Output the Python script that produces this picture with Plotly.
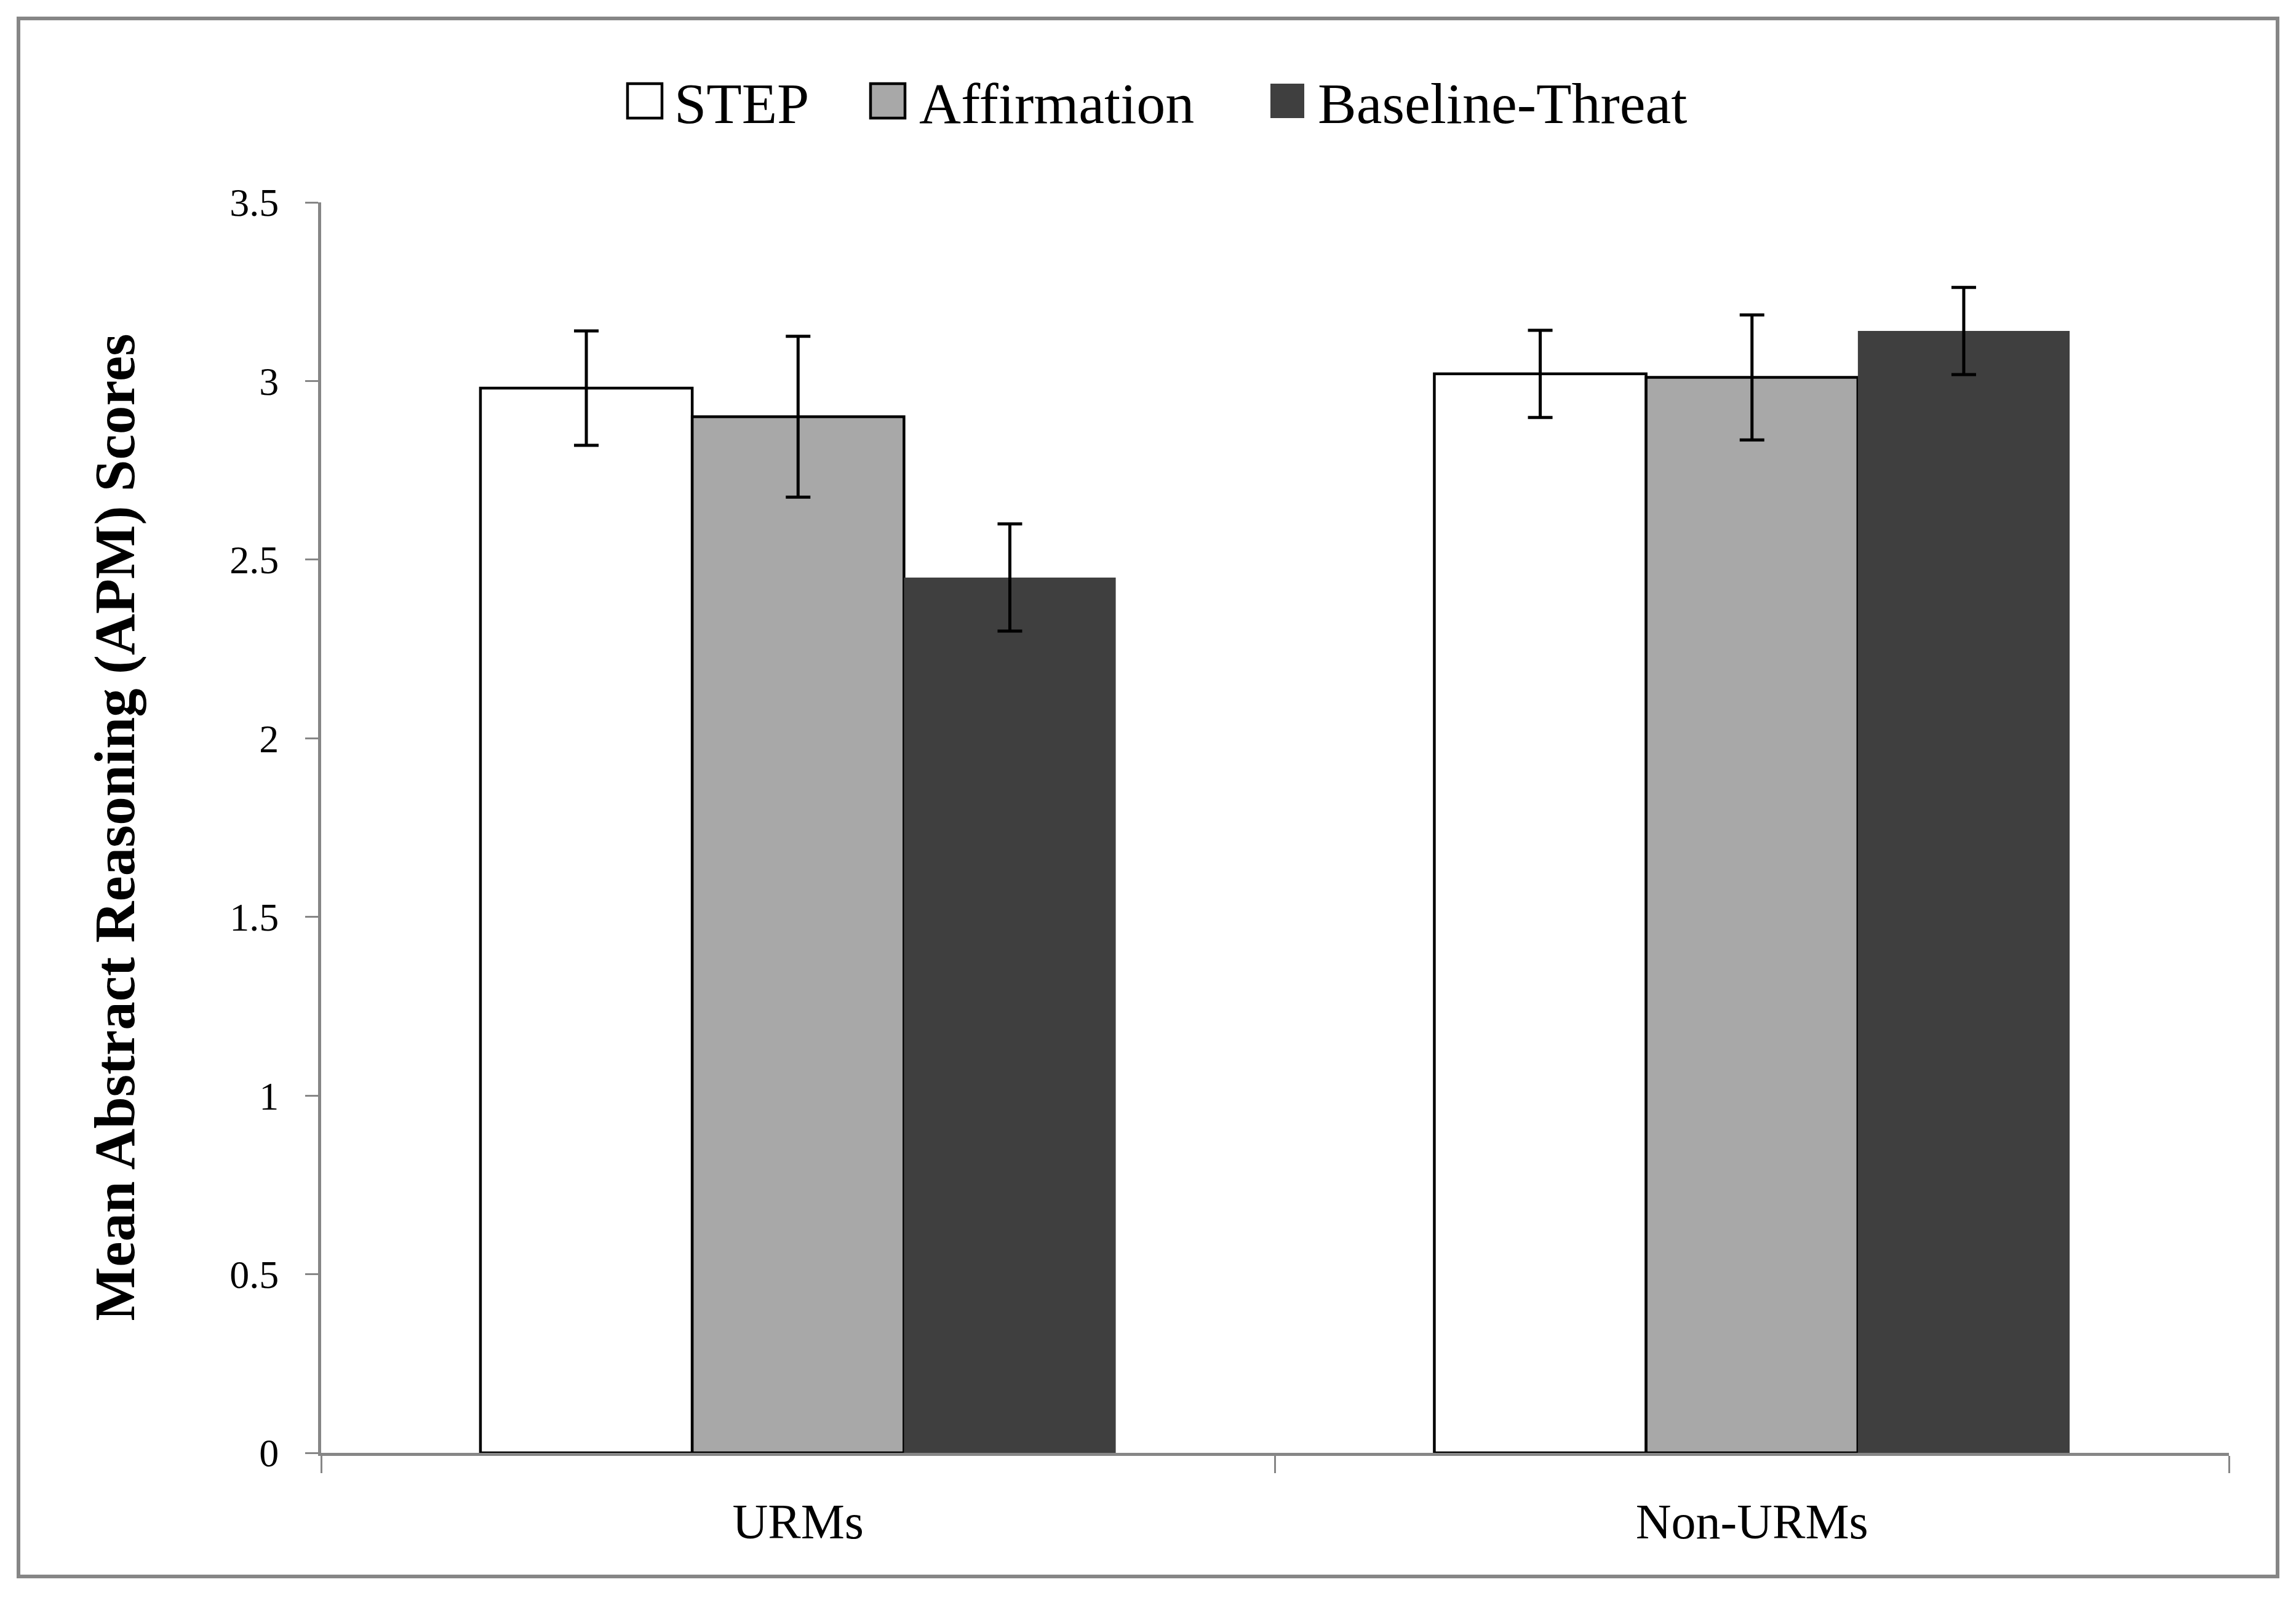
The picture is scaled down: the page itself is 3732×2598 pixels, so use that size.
import plotly.graph_objects as go

# ---- data ----
categories = ["URMs", "Non-URMs"]
series_names = ["STEP", "Affirmation", "Baseline-Threat"]
step_means = [2.98, 3.02]
step_err = [0.16, 0.122]
affirmation_means = [2.90, 3.01]
affirmation_err = [0.225, 0.175]
baseline_means = [2.45, 3.14]
baseline_err = [0.15, 0.122]
y_tick_values = [0, 0.5, 1, 1.5, 2, 2.5, 3, 3.5]
y_tick_labels = ["0", "0.5", "1", "1.5", "2", "2.5", "3", "3.5"]

# ---- figure geometry (pixels, page coordinates; body margin offset) ----
OFF = 8
W, H = 3732, 2598
L, R, T, B = 522 - OFF, 109 + OFF, 329 - OFF, 236 + OFF
PW = W - L - R
PH = H - T - B


def px_x(x):
    return (x - OFF - L) / PW


def px_y(y):
    return (H - B - (y - OFF)) / PH


FONT = "Liberation Serif"
AXIS_GRAY = "#868686"

fills = ["#FFFFFF", "#A8A8A8", "#3F3F3F"]
outline_w = [4.5, 4.5, 0]
means = [step_means, affirmation_means, baseline_means]
errs = [step_err, affirmation_err, baseline_err]

fig = go.Figure()
for name, m, e, c, lw in zip(series_names, means, errs, fills, outline_w):
    fig.add_trace(go.Bar(
        name=name, x=categories, y=m,
        marker=dict(color=c, line=dict(color="#000000", width=lw)),
        error_y=dict(type="data", array=e, visible=True,
                     color="#000000", thickness=5, width=20),
        showlegend=False,
    ))

# manual legend (large keys as in the reference)
legend_boxes = [(1020, 1076), (1415, 1471), (2065, 2120)]
legend_text_x = [1094, 1492, 2140]
box_top, box_bot = 136, 192
shapes = []
annotations = []
for (x0, x1), tx, name, c, lw in zip(legend_boxes, legend_text_x, series_names, fills, outline_w):
    shapes.append(dict(
        type="rect", xref="paper", yref="paper",
        x0=px_x(x0), x1=px_x(x1), y0=px_y(box_bot), y1=px_y(box_top),
        fillcolor=c, line=dict(color="#000000", width=lw if lw else 0),
    ))
    annotations.append(dict(
        text=name, xref="paper", yref="paper", x=px_x(tx), y=px_y(168),
        xanchor="left", yanchor="middle", showarrow=False,
        font=dict(family=FONT, size=94, color="#000000"),
    ))

# outer frame
shapes.append(dict(
    type="rect", xref="paper", yref="paper",
    x0=px_x(30), x1=px_x(3702), y0=px_y(2563), y1=px_y(30),
    line=dict(color=AXIS_GRAY, width=6), fillcolor="rgba(0,0,0,0)", layer="below",
))

# y-axis title
annotations.append(dict(
    text="<b>Mean Abstract Reasoning (APM) Scores</b>",
    xref="paper", yref="paper", x=px_x(186), y=0.5,
    xanchor="center", yanchor="middle", textangle=-90, showarrow=False,
    font=dict(family=FONT, size=93, color="#000000"),
))

fig.update_layout(
    width=W, height=H, autosize=False,
    margin=dict(l=L, r=R, t=T, b=B, pad=0),
    paper_bgcolor="white", plot_bgcolor="white",
    barmode="group", bargap=0.334, bargroupgap=0,
    font=dict(family=FONT, color="#000000"),
    shapes=shapes, annotations=annotations,
    showlegend=False,
    xaxis=dict(
        type="category", showline=True, linecolor=AXIS_GRAY, linewidth=5,
        ticks="outside", tickson="boundaries", ticklen=28, tickwidth=3,
        tickcolor=AXIS_GRAY, showgrid=False, zeroline=False,
        tickfont=dict(family=FONT, size=80, color="#000000"),
        ticklabelstandoff=38,
    ),
    yaxis=dict(
        range=[0, 3.5], tickvals=y_tick_values, ticktext=y_tick_labels,
        showline=True, linecolor=AXIS_GRAY, linewidth=5,
        ticks="outside", ticklen=21, tickwidth=3, tickcolor=AXIS_GRAY,
        showgrid=False, zeroline=False,
        tickfont=dict(family=FONT, size=64, color="#000000"),
        ticklabelstandoff=30,
    ),
)

fig.write_html("out.html")
